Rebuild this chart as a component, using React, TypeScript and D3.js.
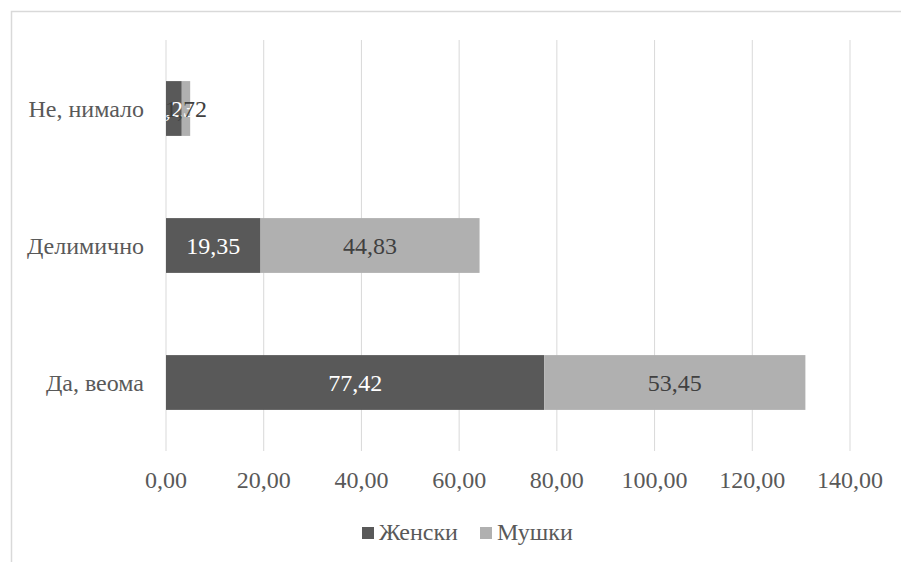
import React from "react";
import * as d3 from "d3";

const categories = ["Да, веома", "Делимично", "Не, нимало"];
const seriesNames = ["Женски", "Мушки"];
const zenski = [77.42, 19.35, 3.23];
const muski = [53.45, 44.83, 1.72];
const xTicks = [0, 20, 40, 60, 80, 100, 120, 140];

const colors = ["#595959", "#b0b0b0"];
const labelColors = ["#ffffff", "#404040"];
const font = "Liberation Serif";
const fs = 24;

export default function App() {
  const W = 901, H = 562;
  const left = 166, right = 850, top = 40, bottom = 451;
  const x = d3.scaleLinear().domain([0, 140]).range([left, right]);
  const y = d3.scaleBand().domain([...categories].reverse()).range([top, bottom]).paddingInner(0.6).paddingOuter(0.3);
  const fmt = (v: number) => v.toFixed(2).replace(".", ",");
  const series = [zenski, muski];
  const stacked = categories.map((c, i) => {
    let acc = 0;
    return series.map((s, k) => {
      const x0 = acc;
      acc += s[i];
      return { cat: c, k, x0, x1: acc, v: s[i] };
    });
  });
  const ts = { fontFamily: font, fontSize: fs };
  return (
    <svg width={W} height={H} style={{ position: "absolute", left: 0, top: 0, background: "#fff" }}>
      <path d={`M11.5,${H} V11.5 H${W}`} fill="none" stroke="#d9d9d9" strokeWidth={1.5} />
      {xTicks.map((t) => (
        <g key={t}>
          <line x1={x(t)} x2={x(t)} y1={top} y2={bottom} stroke="#d9d9d9" strokeWidth={1} />
          <text x={x(t)} y={488} textAnchor="middle" style={ts} fill="#595959">{fmt(t)}</text>
        </g>
      ))}
      {stacked.map((row) =>
        row.map((d) => (
          <rect key={d.cat + d.k} x={x(d.x0)} y={y(d.cat)!} width={x(d.x1) - x(d.x0)} height={y.bandwidth()} fill={colors[d.k]} />
        ))
      )}
      {stacked.map((row) =>
        row.map((d) => (
          <text key={"l" + d.cat + d.k} x={(x(d.x0) + x(d.x1)) / 2} y={y(d.cat)! + y.bandwidth() / 2 + 8} textAnchor="middle" style={ts} fill={labelColors[d.k]}>
            {fmt(d.v)}
          </text>
        ))
      )}
      {categories.map((c) => (
        <text key={c} x={144} y={y(c)! + y.bandwidth() / 2 + 8} textAnchor="end" style={ts} fill="#595959">{c}</text>
      ))}
      {seriesNames.map((n, k) => {
        const lx = k === 0 ? 362 : 480;
        return (
          <g key={n}>
            <rect x={lx} y={527} width={12} height={12} fill={colors[k]} />
            <text x={lx + 17} y={540} style={ts} fill="#595959">{n}</text>
          </g>
        );
      })}
    </svg>
  );
}
